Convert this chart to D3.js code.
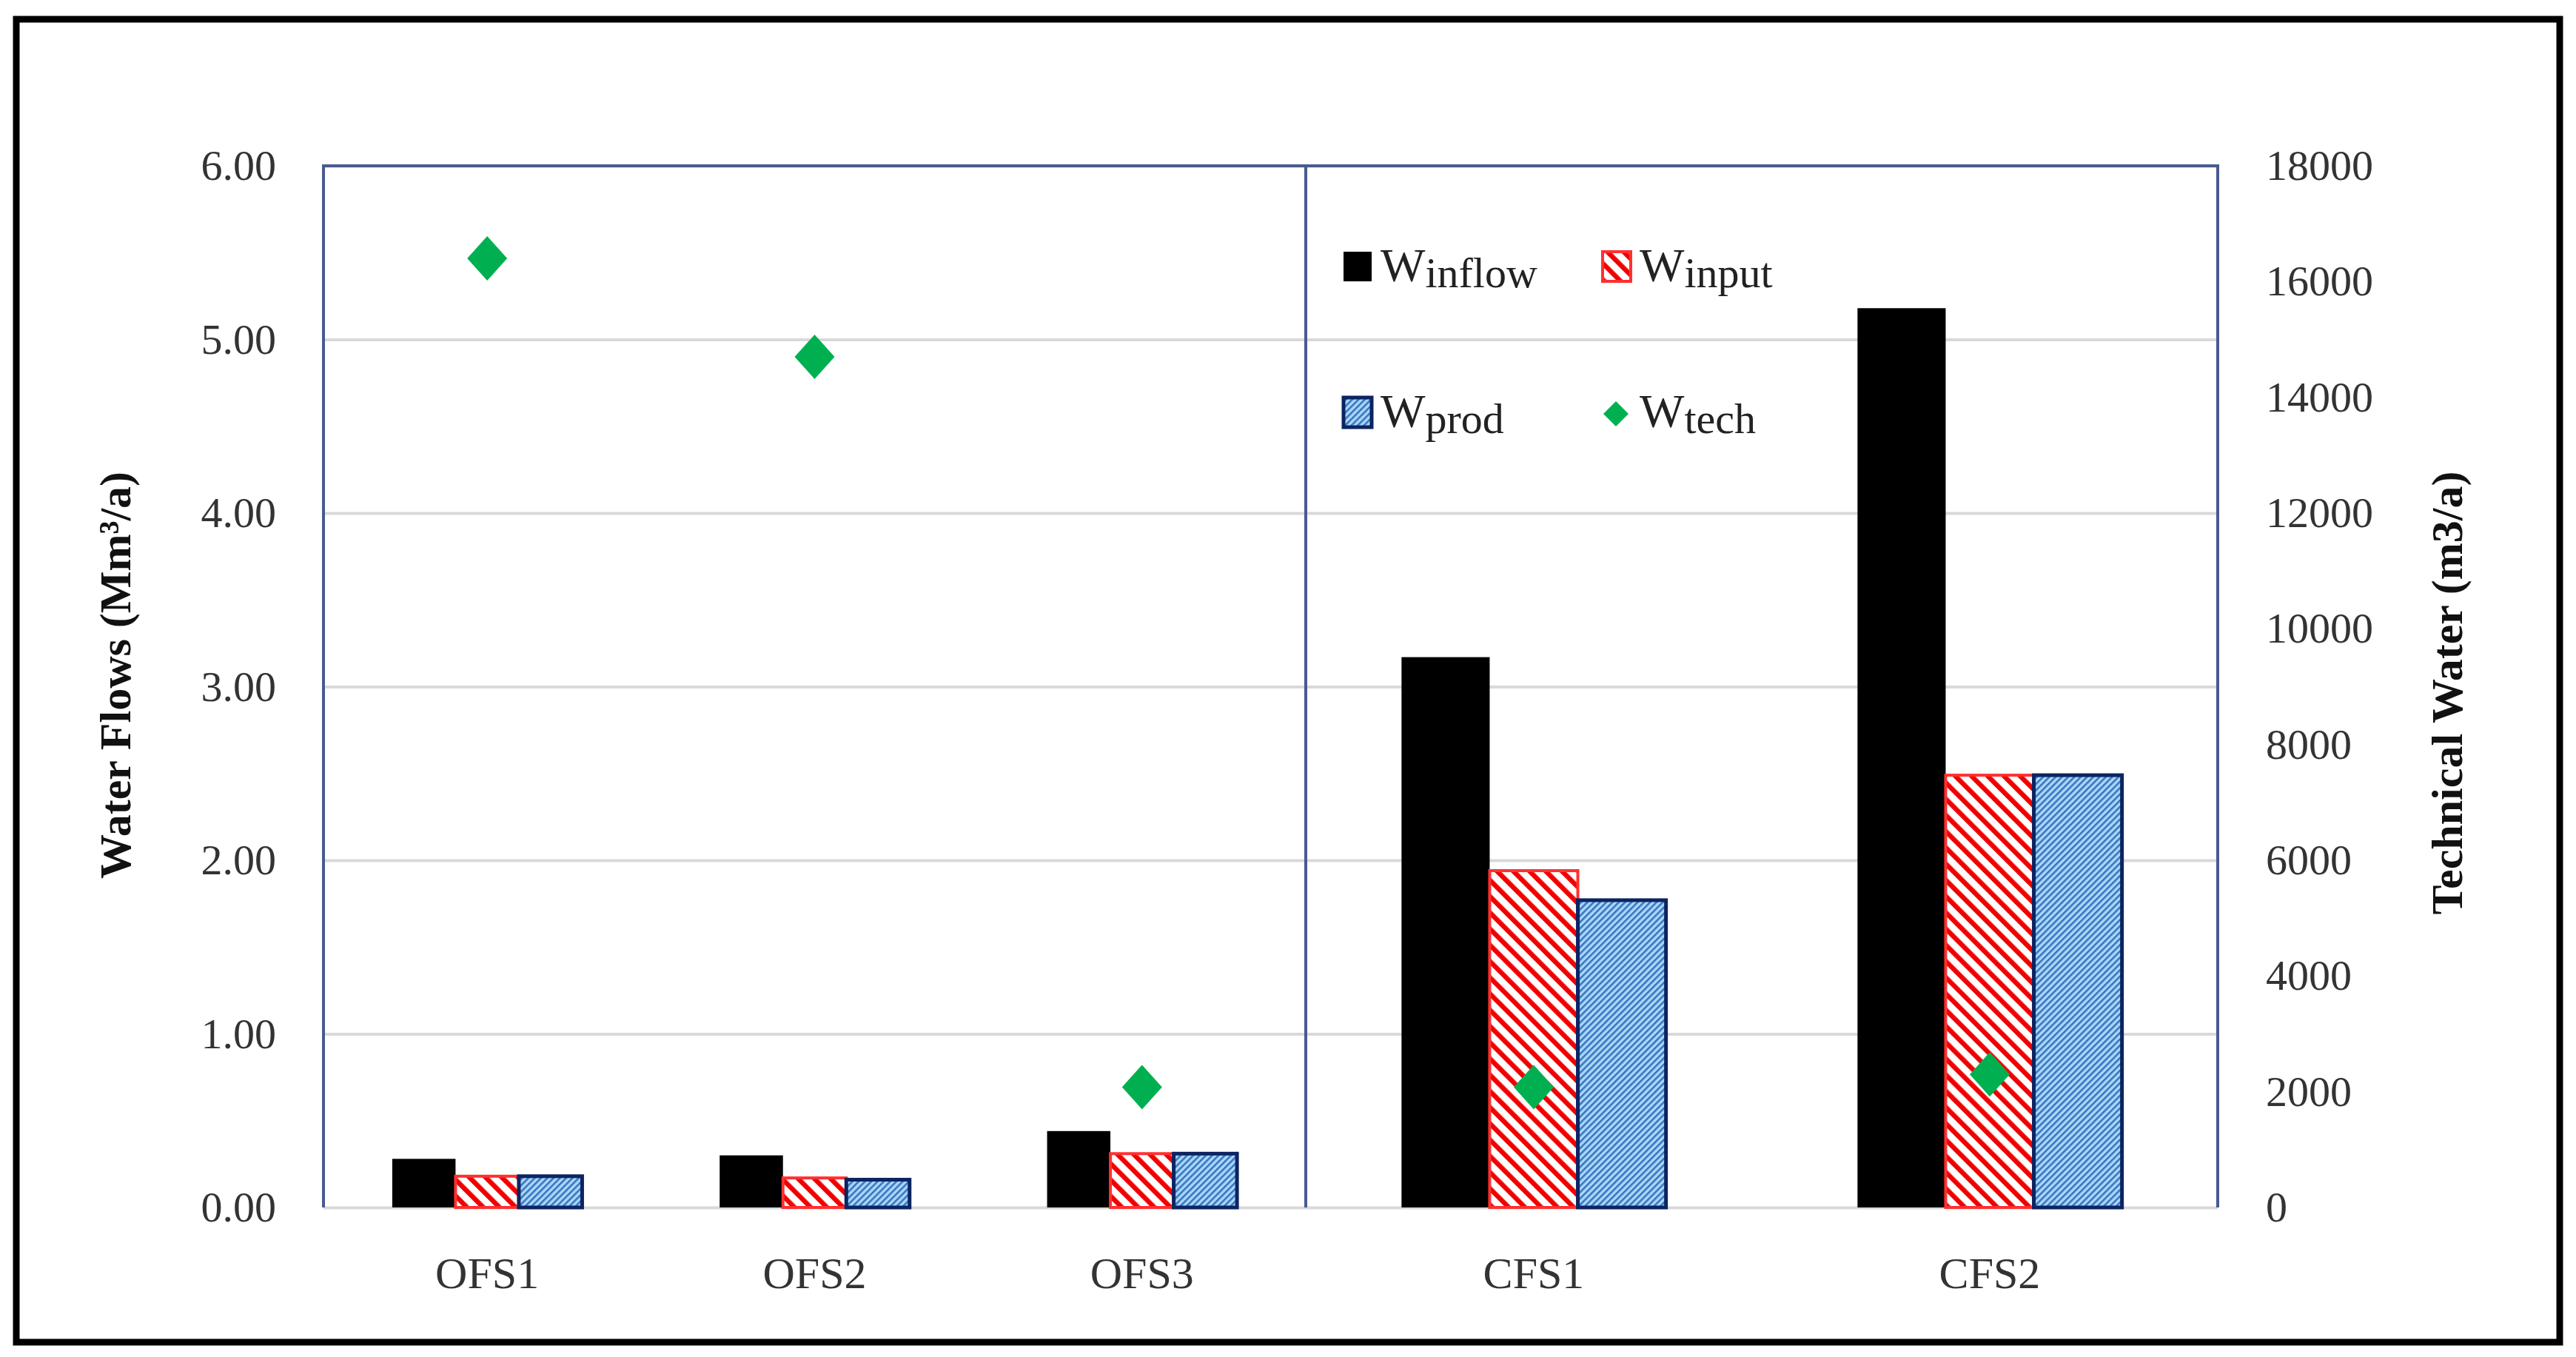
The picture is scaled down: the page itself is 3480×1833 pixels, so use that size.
<!DOCTYPE html>
<html>
  <head>
    <meta charset="utf-8">
    <title>Water Flows</title>
    <script src="https://cdnjs.cloudflare.com/ajax/libs/d3/7.8.5/d3.min.js" charset="utf-8"></script>
    <style>
 body { margin: 0; background: white; }
 text { font-family: "Liberation Serif", "Times New Roman", serif; fill: #333; }
 .tick text { font-size: 58px; }
 .cat { font-size: 60px; text-anchor: middle; }
 .title { font-size: 60px; font-weight: bold; fill: #111; text-anchor: middle; }
 .legend text { font-size: 64px; fill: #222; }
 .grid line { stroke: #d9d9d9; stroke-width: 4px; }
 .frame { fill: none; stroke: #4a5a90; stroke-width: 4px; }
    </style>
  </head>
  <body>
    <svg id="viz" width="3480" height="1833"></svg>
    <script>

// values
var openSystems = ["OFS1", "OFS2", "OFS3"];
var closedSystems = ["CFS1", "CFS2"];
var winflow = [0.28, 0.30, 0.44, 3.17, 5.18];
var winput  = [0.18, 0.17, 0.31, 1.94, 2.49];
var wprod   = [0.18, 0.16, 0.31, 1.77, 2.49];
var wtech   = [16400, 14700, 2080, 2080, 2300];
var flowTicks = [0, 1, 2, 3, 4, 5, 6];
var techTicks = [0, 2000, 4000, 6000, 8000, 10000, 12000, 14000, 16000, 18000];
var seriesNames = ["inflow", "input", "prod"];

var svg = d3.select("#viz");

// plot box (window.top is taken, so no "top" here)
var plotLeft = 437, plotMid = 1764, plotRight = 2996, plotTop = 224, plotBottom = 1631;

// patterns for the hatched bars
var defs = svg.append("defs");

var redPat = defs.append("pattern")
    .attr("id", "redHatch")
    .attr("patternUnits", "userSpaceOnUse")
    .attr("width", 15.5).attr("height", 15.5)
    .attr("patternTransform", "rotate(-45)");
redPat.append("rect").attr("width", 15.5).attr("height", 15.5).attr("fill", "white");
redPat.append("rect").attr("width", 6.5).attr("height", 15.5).attr("fill", "#f00000");

var bluePat = defs.append("pattern")
    .attr("id", "blueHatch")
    .attr("patternUnits", "userSpaceOnUse")
    .attr("width", 6).attr("height", 6)
    .attr("patternTransform", "rotate(45)");
bluePat.append("rect").attr("width", 6).attr("height", 6).attr("fill", "#a9d8fb");
bluePat.append("rect").attr("width", 2.6).attr("height", 6).attr("fill", "#3a74bd");

var styles = {
    inflow: { fill: "#000", stroke: "none", sw: 0 },
    input:  { fill: "url(#redHatch)", stroke: "#ff3030", sw: 4 },
    prod:   { fill: "url(#blueHatch)", stroke: "#0c2461", sw: 5 }
};

// scales
var y = d3.scaleLinear().domain([0, 6]).range([plotBottom, plotTop]);
var y2 = d3.scaleLinear().domain([0, 18000]).range([plotBottom, plotTop]);

var xOpen = d3.scaleBand().domain(openSystems).range([plotLeft, plotMid])
    .paddingInner(0.42).paddingOuter(0.21);
var xClosed = d3.scaleBand().domain(closedSystems).range([plotMid, plotRight])
    .paddingInner(0.42).paddingOuter(0.21);

// outer border
svg.append("rect")
    .attr("x", 22).attr("y", 26).attr("width", 3436).attr("height", 1787)
    .attr("fill", "white").attr("stroke", "black").attr("stroke-width", 9);

// gridlines
svg.append("g")
    .attr("class", "grid")
    .attr("transform", "translate(" + plotLeft + ",0)")
    .call(d3.axisLeft(y).tickValues(flowTicks).tickSize(-(plotRight - plotLeft)).tickFormat(""))
    .call(function(g) { g.select(".domain").remove(); });

// frames of the two panels (no bottom edge)
[[plotLeft, plotMid], [plotMid, plotRight]].forEach(function(p) {
    svg.append("path")
        .attr("class", "frame")
        .attr("d", "M" + p[0] + "," + plotBottom + "V" + plotTop + "H" + p[1] + "V" + plotBottom);
});

// axes labels
svg.append("g")
    .attr("transform", "translate(" + plotLeft + ",0)")
    .call(d3.axisLeft(y).tickValues(flowTicks).tickSize(0).tickPadding(64).tickFormat(d3.format(".2f")))
    .call(function(g) { g.select(".domain").remove(); });

svg.append("g")
    .attr("transform", "translate(" + plotRight + ",0)")
    .call(d3.axisRight(y2).tickValues(techTicks).tickSize(0).tickPadding(65).tickFormat(d3.format("d")))
    .call(function(g) { g.select(".domain").remove(); });

svg.selectAll(".tick text").attr("font-family", null).attr("font-size", null).attr("fill", null);

// rows of data
var rows = openSystems.concat(closedSystems).map(function(c, i) {
    return { cat: c, x: i < 3 ? xOpen : xClosed,
             inflow: winflow[i], input: winput[i], prod: wprod[i], tech: wtech[i] };
});

var groups = svg.selectAll("g.cat-group")
    .data(rows)
    .enter().append("g")
    .attr("class", "cat-group")
    .attr("transform", function(d) { return "translate(" + d.x(d.cat) + ",0)"; });

groups.selectAll("rect")
    .data(function(d) {
        var sub = d3.scaleBand().domain(seriesNames).range([0, d.x.bandwidth()]);
        return seriesNames.map(function(s) { return { s: s, v: d[s], x: sub(s), w: sub.bandwidth() }; });
    })
    .enter().append("rect")
    .attr("x", function(d) { return d.x; })
    .attr("y", function(d) { return y(d.v); })
    .attr("width", function(d) { return d.w; })
    .attr("height", function(d) { return plotBottom - y(d.v); })
    .attr("fill", function(d) { return styles[d.s].fill; })
    .attr("stroke", function(d) { return styles[d.s].stroke; })
    .attr("stroke-width", function(d) { return styles[d.s].sw; });

function diamond(hw, hh) {
    return "M0," + (-hh) + "L" + hw + ",0L0," + hh + "L" + (-hw) + ",0Z";
}

groups.append("path")
    .attr("d", diamond(27, 30))
    .attr("fill", "#00b050")
    .attr("transform", function(d) { return "translate(" + (d.x.bandwidth() / 2) + "," + y2(d.tech) + ")"; });

// category labels
groups.append("text")
    .attr("class", "cat")
    .attr("x", function(d) { return d.x.bandwidth() / 2; })
    .attr("y", 1740)
    .text(function(d) { return d.cat; });

// axis titles
svg.append("text")
    .attr("class", "title")
    .attr("transform", "translate(176,912) rotate(-90)")
    .text("Water Flows (Mm³/a)");

svg.append("text")
    .attr("class", "title")
    .attr("transform", "translate(3326,936) rotate(-90)")
    .text("Technical Water (m3/a)");

// legend
var legendItems = [
    { name: "inflow", x: 1813, y: 380 },
    { name: "input",  x: 2163, y: 380 },
    { name: "prod",   x: 1813, y: 577 },
    { name: "tech",   x: 2163, y: 577 }
];

var lg = svg.append("g").attr("class", "legend")
    .selectAll("g").data(legendItems).enter().append("g")
    .attr("transform", function(d) { return "translate(" + d.x + "," + d.y + ")"; });

lg.filter(function(d) { return d.name !== "tech"; })
    .append("rect")
    .attr("x", 2).attr("y", -40).attr("width", 38).attr("height", 40)
    .attr("fill", function(d) { return styles[d.name].fill; })
    .attr("stroke", function(d) { return styles[d.name].stroke; })
    .attr("stroke-width", function(d) { return styles[d.name].sw; });

lg.filter(function(d) { return d.name === "tech"; })
    .append("path")
    .attr("d", diamond(17, 17))
    .attr("fill", "#00b050")
    .attr("transform", "translate(20,-18)");

var lt = lg.append("text")
    .attr("x", 52);
lt.append("tspan").text("W");
lt.append("tspan")
    .attr("dy", 8)
    .style("font-size", "58px")
    .text(function(d) { return d.name; });

    </script>
  </body>
</html>
